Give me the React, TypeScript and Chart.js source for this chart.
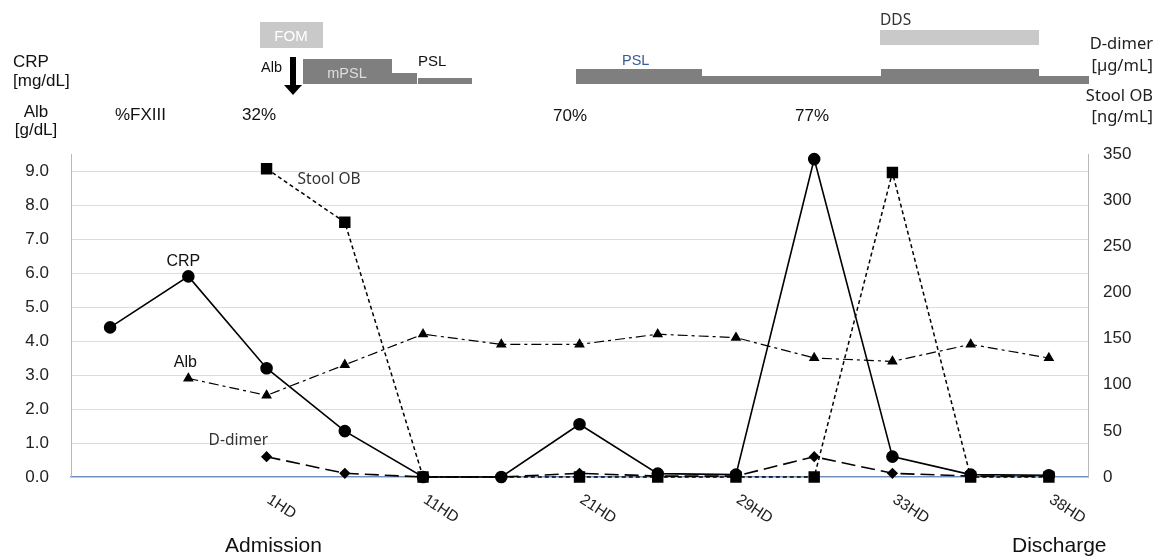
import { useEffect, useRef } from "react";
import { Chart, registerables } from "chart.js";

Chart.register(...registerables);

// ---- data ----
const categories = ["", "", "1HD", "", "11HD", "", "21HD", "", "29HD", "", "33HD", "", "38HD"];
const crp = [4.4, 5.9, 3.2, 1.35, 0, 0, 1.55, 0.1, 0.07, 9.35, 0.6, 0.07, 0.05];
const alb = [null, 2.9, 2.4, 3.3, 4.2, 3.9, 3.9, 4.2, 4.1, 3.5, 3.4, 3.9, 3.5];
const stoolOB = [null, null, 334, 276, 0, null, 0, 0, 0, 0, 330, 0, 0];
const dDimer = [null, null, 22, 4, 0, 0, 4, 1, 1, 22, 4, 1, 1];
const leftTicks = [0, 1, 2, 3, 4, 5, 6, 7, 8, 9];
const rightTicks = [0, 50, 100, 150, 200, 250, 300, 350];
const leftMax = 9.5;
const rightMax = 350;
const fxiii = ["%FXIII", "32%", "70%", "77%"];

const ARIAL = '"Liberation Sans", Arial, sans-serif';
const SEGOE = '"Noto Sans", "Open Sans", sans-serif';

const annotationPlugin = {
  id: "annotations",
  afterDraw(chart: any) {
    const ctx: CanvasRenderingContext2D = chart.ctx;
    const xs = chart.scales.x;
    const yl = chart.scales.y;
    const yr = chart.scales.y1;
    const area = chart.chartArea;
    ctx.save();

    // rotated x labels
    ctx.fillStyle = "#222";
    ctx.font = `15.5px ${ARIAL}`;
    categories.forEach((lab, i) => {
      if (!lab) return;
      const px = xs.getPixelForValue(i);
      ctx.save();
      ctx.translate(px + 6, area.bottom + 15);
      ctx.rotate((33 * Math.PI) / 180);
      ctx.textAlign = "left";
      ctx.textBaseline = "top";
      ctx.fillText(lab, 0, 0);
      ctx.restore();
    });

    ctx.textBaseline = "alphabetic";
    ctx.textAlign = "left";
    ctx.font = `21px ${ARIAL}`;
    ctx.fillStyle = "#111";
    ctx.fillText("Admission", 225, 552);
    ctx.fillText("Discharge", 1012, 552);

    // series labels
    ctx.font = `16px ${ARIAL}`;
    ctx.fillStyle = "#111";
    ctx.textAlign = "center";
    ctx.fillText("CRP", xs.getPixelForValue(1) - 5, yl.getPixelForValue(crp[1]) - 10);
    ctx.fillText("Alb", xs.getPixelForValue(1) - 3, yl.getPixelForValue(alb[1] as number) - 11);
    ctx.font = `15.5px ${SEGOE}`;
    ctx.fillStyle = "#333";
    ctx.textAlign = "left";
    ctx.fillText("Stool OB", xs.getPixelForValue(2) + 31, yr.getPixelForValue(stoolOB[2] as number) + 15);
    ctx.fillText("D-dimer", xs.getPixelForValue(2) - 58, yr.getPixelForValue(dDimer[2] as number) - 12);

    // top-left axis titles
    ctx.font = `17px ${ARIAL}`;
    ctx.fillStyle = "#111";
    ctx.textAlign = "left";
    ctx.fillText("CRP", 13, 67);
    ctx.fillText("[mg/dL]", 13, 86);
    ctx.textAlign = "center";
    ctx.fillText("Alb", 36, 117);
    ctx.fillText("[g/dL]", 36, 135);
    ctx.textAlign = "left";
    ctx.fillText(fxiii[0], 115, 120);
    ctx.fillText(fxiii[1], 242, 120);
    ctx.fillText(fxiii[2], 553, 121);
    ctx.fillText(fxiii[3], 795, 121);

    // top-right axis titles
    ctx.font = `16.5px ${SEGOE}`;
    ctx.fillStyle = "#222";
    ctx.textAlign = "right";
    ctx.fillText("D-dimer", 1153, 49);
    ctx.fillText("[\u00b5g/mL]", 1153, 71);
    ctx.fillText("Stool OB", 1153, 101);
    ctx.fillText("[ng/mL]", 1153, 122);

    // treatment bars
    const dark = "#7f7f7f";
    const light = "#c9c9c9";
    ctx.fillStyle = light;
    ctx.fillRect(260, 22, 63, 26); // FOM
    ctx.fillRect(880, 30, 159, 15); // DDS
    ctx.fillStyle = dark;
    ctx.fillRect(303, 59, 89, 25); // mPSL
    ctx.fillRect(392, 73, 25, 11);
    ctx.fillRect(418, 78, 54, 6);
    ctx.fillRect(576, 69, 126, 15); // PSL
    ctx.fillRect(702, 76, 179, 8);
    ctx.fillRect(881, 69, 158, 15);
    ctx.fillRect(1039, 76, 50, 8);

    ctx.textAlign = "center";
    ctx.font = `15px ${ARIAL}`;
    ctx.fillStyle = "#ffffff";
    ctx.fillText("FOM", 291, 41);
    ctx.font = `14.5px ${ARIAL}`;
    ctx.fillStyle = "#dedede";
    ctx.fillText("mPSL", 347, 78);

    ctx.textAlign = "left";
    ctx.font = `15px ${ARIAL}`;
    ctx.fillStyle = "#111";
    ctx.fillText("PSL", 418, 66);
    ctx.font = `14.5px ${ARIAL}`;
    ctx.fillText("Alb", 261, 72);
    ctx.fillStyle = "#3a5a9c";
    ctx.font = `14.5px ${ARIAL}`;
    ctx.fillText("PSL", 622, 65);
    ctx.fillStyle = "#333";
    ctx.font = `15.5px ${SEGOE}`;
    ctx.fillText("DDS", 880, 25);

    // arrow
    ctx.fillStyle = "#000";
    ctx.fillRect(290, 57, 6, 29);
    ctx.beginPath();
    ctx.moveTo(284, 85);
    ctx.lineTo(302, 85);
    ctx.lineTo(293, 95);
    ctx.closePath();
    ctx.fill();

    ctx.restore();
  },
};

export default function App() {
  const ref = useRef<HTMLCanvasElement | null>(null);

  useEffect(() => {
    if (!ref.current) return;
    const chart = new Chart(ref.current, {
      type: "line",
      data: {
        labels: categories,
        datasets: [
          {
            label: "CRP",
            data: crp,
            yAxisID: "y",
            borderColor: "#000",
            backgroundColor: "#000",
            borderWidth: 1.6,
            pointStyle: "circle",
            pointRadius: 5.5,
            pointBackgroundColor: "#000",
            pointBorderColor: "#000",
            tension: 0,
            clip: false as any,
          },
          {
            label: "Stool OB",
            data: stoolOB,
            yAxisID: "y1",
            borderColor: "#000",
            backgroundColor: "#000",
            borderWidth: 1.5,
            borderDash: [4, 3],
            pointStyle: "rect",
            pointRadius: 7,
            pointBackgroundColor: "#000",
            pointBorderColor: "#000",
            spanGaps: true,
            tension: 0,
            clip: false as any,
          },
          {
            label: "Alb",
            data: alb,
            yAxisID: "y",
            borderColor: "#000",
            backgroundColor: "#000",
            borderWidth: 1.2,
            borderDash: [10, 4, 3, 4],
            pointStyle: "triangle",
            pointRadius: 5,
            pointBackgroundColor: "#000",
            pointBorderColor: "#000",
            tension: 0,
            clip: false as any,
          },
          {
            label: "D-dimer",
            data: dDimer,
            yAxisID: "y1",
            borderColor: "#000",
            backgroundColor: "#000",
            borderWidth: 1.6,
            borderDash: [14, 6],
            pointStyle: "rectRot",
            pointRadius: 4.5,
            pointBackgroundColor: "#000",
            pointBorderColor: "#000",
            tension: 0,
            clip: false as any,
          },
        ],
      },
      options: {
        responsive: false,
        animation: false,
        devicePixelRatio: 1,
        layout: { padding: { top: 154, left: 0, right: 0, bottom: 0 } },
        plugins: {
          legend: { display: false },
          tooltip: { enabled: false },
        },
        scales: {
          x: {
            type: "category",
            offset: true,
            grid: { display: false, drawTicks: false },
            border: { display: true, color: "#6f8fbf", width: 1.2 },
            ticks: { display: false },
            afterFit: (s: any) => {
              s.height = 79;
            },
          },
          y: {
            type: "linear",
            position: "left",
            min: 0,
            max: leftMax,
            afterBuildTicks: (s: any) => {
              s.ticks = leftTicks.map((v) => ({ value: v }));
            },
            ticks: {
              padding: 22,
              color: "#222",
              font: { family: ARIAL, size: 17 },
              callback: (v: any) => Number(v).toFixed(1),
            },
            grid: { color: "#dcdcdc", lineWidth: 1, drawTicks: false },
            border: { display: true, color: "#b8b8b8", width: 1 },
            afterFit: (s: any) => {
              s.width = 71;
            },
          },
          y1: {
            type: "linear",
            position: "right",
            min: 0,
            max: rightMax,
            afterBuildTicks: (s: any) => {
              s.ticks = rightTicks.map((v) => ({ value: v }));
            },
            ticks: {
              padding: 15,
              color: "#222",
              font: { family: ARIAL, size: 17 },
            },
            grid: { display: false, drawTicks: false },
            border: { display: true, color: "#b8b8b8", width: 1 },
            afterFit: (s: any) => {
              s.width = 68;
            },
          },
        },
      },
      plugins: [annotationPlugin],
    } as any);
    return () => chart.destroy();
  }, []);

  return (
    <div style={{ position: "absolute", left: 0, top: 0, width: 1156, height: 556, background: "#fff" }}>
      <canvas ref={ref} width={1156} height={556} style={{ display: "block" }} />
    </div>
  );
}
